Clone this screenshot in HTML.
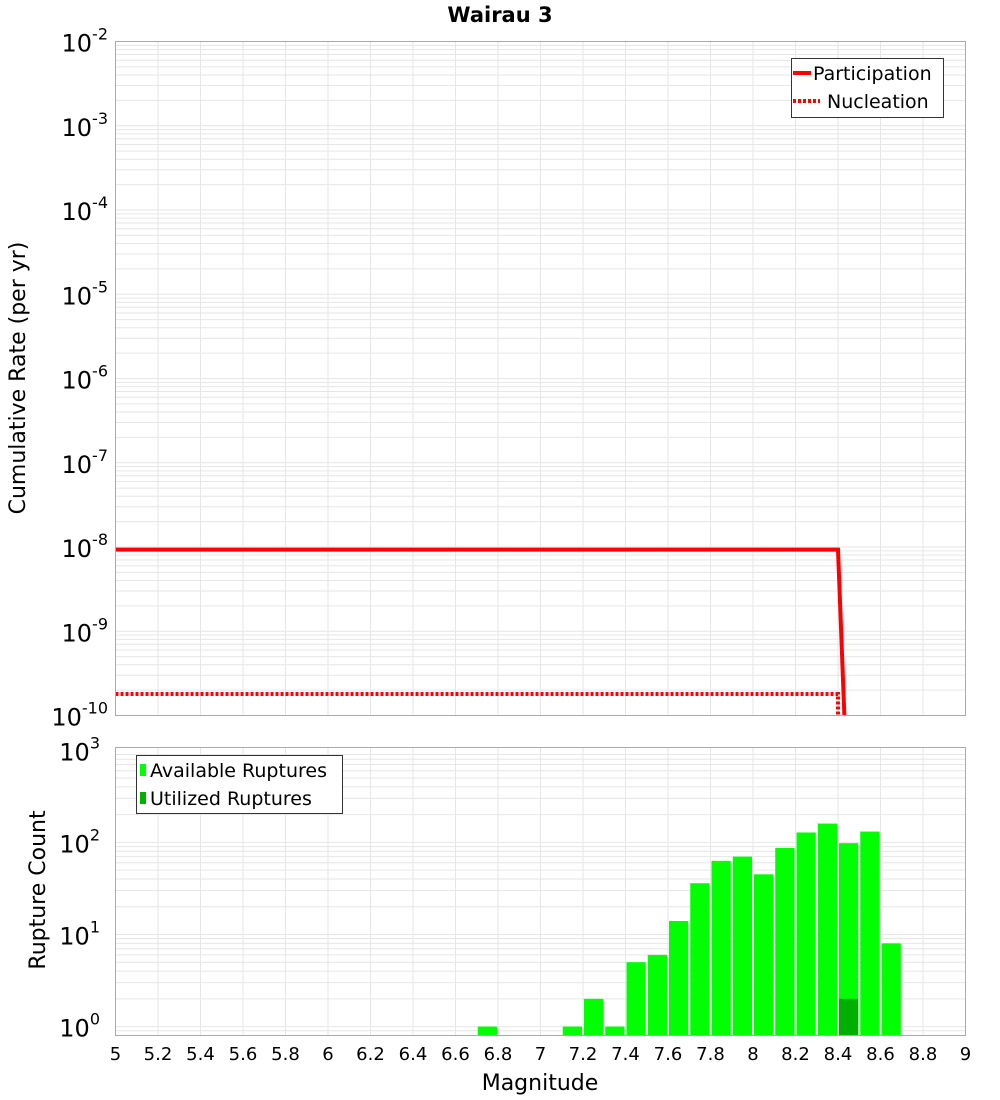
<!DOCTYPE html>
<html><head><meta charset="utf-8"><style>
body{margin:0;background:#fff;}
svg{display:block;font-family:"DejaVu Sans","Liberation Sans",sans-serif;}
</style></head><body>
<svg id="c" width="1000" height="1100" viewBox="0 0 1000 1100">
<text x="500" y="22" text-anchor="middle" font-size="21" font-weight="bold">Wairau 3</text>
<g id="topplot"></g>
<g id="botplot"></g>
<text transform="translate(25,378) rotate(-90)" text-anchor="middle" font-size="22">Cumulative Rate (per yr)</text>
<text transform="translate(45,890) rotate(-90)" text-anchor="middle" font-size="22">Rupture Count</text>
<text x="540" y="1090" text-anchor="middle" font-size="22">Magnitude</text>
</svg>
<script>
const xTicks=[5,5.2,5.4,5.6,5.8,6,6.2,6.4,6.6,6.8,7,7.2,7.4,7.6,7.8,8,8.2,8.4,8.6,8.8,9];
const partMag=[5,8.4,8.43];
const partRate=[9.3e-9,9.3e-9,1e-10];
const nuclMag=[5,8.4,8.4];
const nuclRate=[1.8e-10,1.8e-10,1e-10];
const topExps=[-2,-3,-4,-5,-6,-7,-8,-9,-10];
const binMags=[6.7,7.1,7.2,7.3,7.4,7.5,7.6,7.7,7.8,7.9,8.0,8.1,8.2,8.3,8.4,8.5,8.6];
const availCounts=[1,1,2,1,5,6,14,36,63,70,45,87,128,160,98,131,8];
const usedMags=[8.4];
const usedCounts=[2];
const botExps=[0,1,2,3];

const NS="http://www.w3.org/2000/svg";
const L=115.5,R=965.5;
const T1=41.5,B1=715.5,T2=747.5,B2=1035.5;
const x=m=>L+(m-5)/4*(R-L);
const y1=v=>T1+(-2-Math.log10(v))/8*(B1-T1);
const bMin=Math.log10(0.8),bMax=3.03;
const y2=v=>B2-(Math.log10(v)-bMin)/(bMax-bMin)*(B2-T2);
function mk(p,tag,a){const e=document.createElementNS(NS,tag);for(const k in a)e.setAttribute(k,a[k]);p.appendChild(e);return e;}
const topG=document.getElementById('topplot'),botG=document.getElementById('botplot');

function grid(g,T,B,yf,lo,hi){
  for(let d=lo;d<hi;d++)for(let k=1;k<10;k++){const yy=yf(k*Math.pow(10,d));if(yy<T-0.1||yy>B+0.1)continue;
    const ln=mk(g,'line',{x1:L,x2:R,y1:yy,y2:yy,stroke:'#e6e6e6','stroke-width':1});
    
    }
  xTicks.forEach(m=>{const ln=mk(g,'line',{x1:x(m),x2:x(m),y1:T,y2:B,stroke:'#e6e6e6','stroke-width':1});
    
    });
}
grid(topG,T1,B1,y1,-10,-2);
grid(botG,T2,B2,y2,-1,3);

function path(arrX,arrY){return arrX.map((m,i)=>(i?'L':'M')+x(m)+','+Math.min(y1(arrY[i]),B1)).join(' ');}
const pl=mk(topG,'path',{d:path(partMag,partRate),fill:'none',stroke:'#ff0000','stroke-width':4});


const nl=mk(topG,'path',{d:path(nuclMag,nuclRate),fill:'none',stroke:'#ff0000','stroke-width':4,'stroke-dasharray':'3,2'});


mk(topG,'rect',{x:L,y:T1,width:R-L,height:B1-T1,fill:'none',stroke:'#aaa','stroke-width':1});
topExps.forEach(e=>{const t=mk(topG,'text',{x:108,y:y1(Math.pow(10,e))+10,'text-anchor':'end','font-size':24});
  
  
  t.appendChild(document.createTextNode('10'));
  const s=mk(t,'tspan',{dy:-12,'font-size':16});s.textContent=String(e);});
const lg=mk(topG,'g',{});


mk(lg,'rect',{x:791.5,y:58.5,width:152,height:59,fill:'#fff',stroke:'#333','stroke-width':1});
mk(lg,'line',{x1:793,x2:811,y1:73,y2:73,stroke:'#f00','stroke-width':4});
mk(lg,'text',{x:813,y:80,'font-size':19}).textContent='Participation';
mk(lg,'line',{x1:793,x2:820,y1:101,y2:101,stroke:'#f00','stroke-width':4,'stroke-dasharray':'3,2'});
mk(lg,'text',{x:827,y:108,'font-size':19}).textContent='Nucleation';

const bw=x(5.1)-x(5);
binMags.forEach((m,i)=>{const yt=y2(availCounts[i]);const r=mk(botG,'rect',{x:x(m)+1,y:yt,width:bw-2,height:B2-yt,fill:'#00ff00'});
  
  });
usedMags.forEach((m,i)=>{const yt=y2(usedCounts[i]);const r=mk(botG,'rect',{x:x(m)+1,y:yt,width:bw-2,height:B2-yt,fill:'#00b000'});
  
  });
mk(botG,'rect',{x:L,y:T2,width:R-L,height:B2-T2,fill:'none',stroke:'#aaa','stroke-width':1});
botExps.forEach(e=>{const t=mk(botG,'text',{x:100,y:y2(Math.pow(10,e))+10,'text-anchor':'end','font-size':24});
  
  
  t.appendChild(document.createTextNode('10'));
  const s=mk(t,'tspan',{dy:-12,'font-size':16});s.textContent=String(e);});
xTicks.forEach(m=>{const t=mk(botG,'text',{x:x(m),y:1060,'text-anchor':'middle','font-size':18});
  
  
  t.textContent=String(m);});
const bl=mk(botG,'g',{});


mk(bl,'rect',{x:136.5,y:755.5,width:206,height:58,fill:'#fff',stroke:'#333','stroke-width':1});
mk(bl,'rect',{x:140,y:764,width:6,height:12,fill:'#00ff00'});
mk(bl,'text',{x:150,y:777,'font-size':19}).textContent='Available Ruptures';
mk(bl,'rect',{x:140,y:792,width:6,height:12,fill:'#00b000'});
mk(bl,'text',{x:150,y:805,'font-size':19}).textContent='Utilized Ruptures';
</script>
</body></html>
